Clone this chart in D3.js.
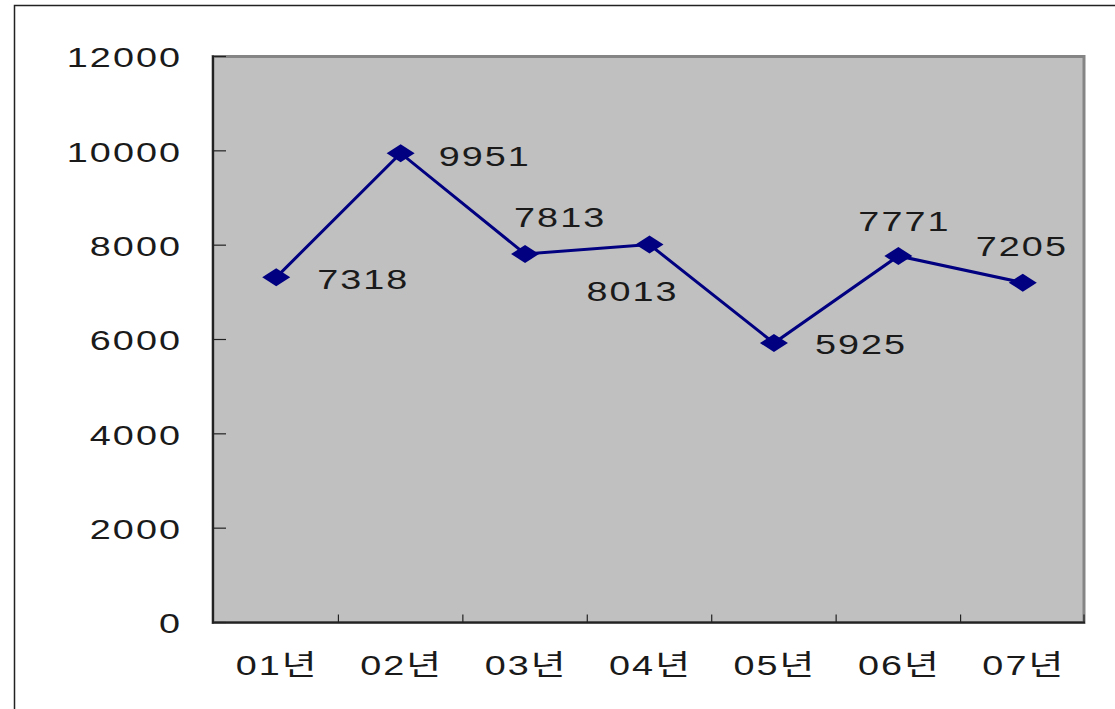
<!DOCTYPE html>
<html>
<head>
<meta charset="utf-8">
<script src="https://cdn.jsdelivr.net/npm/d3@7"></script>
<style>
  html, body { margin: 0; padding: 0; background: #fff; overflow: hidden; }
  svg { display: block; }
  text { font-family: "Liberation Sans", Arial, "Noto Sans CJK KR", sans-serif; fill: #1a1a1a; }
</style>
</head>
<body>
<svg id="chart" width="1115" height="709"></svg>
<script>
// data
const years = ["01년", "02년", "03년", "04년", "05년", "06년", "07년"];
const counts = [7318, 9951, 7813, 8013, 5925, 7771, 7205];
const yTicks = [0, 2000, 4000, 6000, 8000, 10000, 12000];

const width = 1115, height = 709;
const PLOT = { LEFT: 213, RIGHT: 1084, TOP: 56.5, BOTTOM: 622.5 };
const FONT_SIZE = 28, STRETCH = 1.35;

// label offsets from each point (left edge, vertical centre)
const labelOffset = [[41, 2], [38, 3], [-11, -37], [-63, 47], [41, 1], [-40, -35], [-47, -36]];

let svg = d3.select("#chart");

//** SCALES *****************************************
let xScale = d3.scaleBand()
    .domain(years)
    .range([PLOT.LEFT + 1, PLOT.RIGHT + 1])
    .padding(0);

let yScale = d3.scaleLinear()
    .domain([0, 12000])
    .range([PLOT.BOTTOM, PLOT.TOP]);

const cx = d => xScale(d) + xScale.bandwidth() / 2;

// stretched text like the original chart font
function label(g, x, y, str, anchor) {
    g.append("g")
        .attr("transform", "translate(" + x + "," + y + ") scale(" + STRETCH + ",1)")
        .append("text")
        .attr("text-anchor", anchor)
        .attr("dominant-baseline", "central")
        .attr("font-size", FONT_SIZE)
        .attr("letter-spacing", 1.5)
        .text(str);
}

//** FRAME *****************************************
svg.append("rect")
    .attr("x", 14.5).attr("y", 5.5)
    .attr("width", 1200).attr("height", 800)
    .attr("fill", "#fff")
    .attr("stroke", "#222")
    .attr("stroke-width", 1.5);

//** PLOT AREA *****************************************
svg.append("rect")
    .attr("x", PLOT.LEFT).attr("y", PLOT.TOP)
    .attr("width", PLOT.RIGHT - PLOT.LEFT)
    .attr("height", PLOT.BOTTOM - PLOT.TOP)
    .attr("fill", "#c0c0c0")
    .attr("stroke", "#858585")
    .attr("stroke-width", 3);

let axes = svg.append("g");

// y axis
axes.append("line")
    .attr("x1", PLOT.LEFT).attr("x2", PLOT.LEFT)
    .attr("y1", PLOT.TOP - 1).attr("y2", PLOT.BOTTOM + 1)
    .attr("stroke", "#222").attr("stroke-width", 2);

axes.selectAll(".ytick")
    .data(yTicks).enter()
    .append("line")
    .attr("class", "ytick")
    .attr("x1", PLOT.LEFT).attr("x2", PLOT.LEFT + 13)
    .attr("y1", d => yScale(d)).attr("y2", d => yScale(d))
    .attr("stroke", "#222").attr("stroke-width", 1.2);

yTicks.forEach(d => label(axes, 182, yScale(d) + 1, d, "end"));

// x axis
axes.append("line")
    .attr("x1", PLOT.LEFT - 1).attr("x2", PLOT.RIGHT + 1)
    .attr("y1", PLOT.BOTTOM).attr("y2", PLOT.BOTTOM)
    .attr("stroke", "#222").attr("stroke-width", 2);

axes.selectAll(".xtick")
    .data(years.slice(1).concat(["end"])).enter()
    .append("line")
    .attr("class", "xtick")
    .attr("x1", d => d === "end" ? PLOT.RIGHT : xScale(d))
    .attr("x2", d => d === "end" ? PLOT.RIGHT : xScale(d))
    .attr("y1", PLOT.BOTTOM).attr("y2", PLOT.BOTTOM - 8)
    .attr("stroke", "#222").attr("stroke-width", 1.2);

years.forEach(d => label(axes, cx(d) + 1, 665, d, "middle"));

//** LINE *****************************************
let line = d3.line()
    .x((d, i) => cx(years[i]))
    .y(d => yScale(d));

svg.append("path")
    .datum(counts)
    .attr("d", line)
    .attr("fill", "none")
    .attr("stroke", "#000080")
    .attr("stroke-width", 3);

svg.selectAll(".marker")
    .data(counts).enter()
    .append("path")
    .attr("class", "marker")
    .attr("d", (d, i) => {
        let x = cx(years[i]), y = yScale(d);
        return "M" + (x - 14) + "," + y + "L" + x + "," + (y - 9) +
               "L" + (x + 14) + "," + y + "L" + x + "," + (y + 9) + "Z";
    })
    .attr("fill", "#000080");

//** DATA LABELS *****************************************
let labels = svg.append("g");
counts.forEach((d, i) => {
    label(labels, cx(years[i]) + labelOffset[i][0], yScale(d) + labelOffset[i][1], d, "start");
});
</script>
</body>
</html>
